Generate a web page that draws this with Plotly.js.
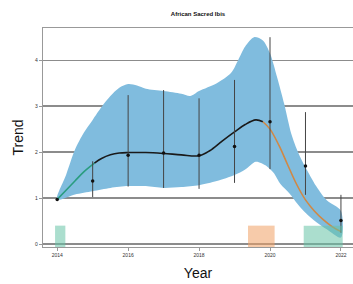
<!DOCTYPE html>
<html>
<head>
<meta charset="utf-8">
<script src="https://cdn.plot.ly/plotly-3.0.1.min.js"></script>
<style>html,body{margin:0;padding:0;background:#fff;}#chart{width:353px;height:284px;}</style>
</head>
<body>
<div id="chart"></div>
<script>
// Observed yearly indices with 95% intervals
const years = [2014, 2015, 2016, 2017, 2018, 2019, 2020, 2021, 2022];
const index = [0.97, 1.37, 1.93, 1.98, 1.93, 2.12, 2.66, 1.70, 0.51];
const indexLow = [0.97, 1.02, 1.25, 1.22, 1.20, 1.33, 1.63, 1.07, 0.24];
const indexHigh = [0.97, 1.80, 3.24, 3.35, 3.17, 3.57, 4.50, 2.87, 1.07];

// Confidence band of smoothed trend
const bandUpYears = [2014, 2014.25, 2014.5, 2014.75, 2015, 2015.25, 2015.5, 2015.75, 2016, 2016.25, 2016.5, 2017, 2017.5, 2017.75, 2018, 2018.5, 2018.9, 2019.1, 2019.3, 2019.55, 2019.8, 2020, 2020.2, 2020.4, 2020.6, 2020.8, 2021, 2021.3, 2021.6, 2022];
const bandUp = [0.97, 1.5, 2.05, 2.42, 2.7, 2.98, 3.22, 3.4, 3.48, 3.45, 3.38, 3.33, 3.27, 3.22, 3.33, 3.5, 3.72, 4.0, 4.3, 4.5, 4.43, 4.15, 3.63, 3.05, 2.4, 1.98, 1.67, 1.26, 0.95, 0.72];
const bandLowYears = [2014, 2014.5, 2015, 2015.5, 2016, 2016.5, 2017, 2017.5, 2018, 2018.5, 2019, 2019.3, 2019.6, 2019.9, 2020.1, 2020.3, 2020.55, 2020.8, 2021, 2021.3, 2021.6, 2022];
const bandLow = [0.97, 1.08, 1.15, 1.22, 1.26, 1.26, 1.22, 1.24, 1.28, 1.37, 1.5, 1.62, 1.79, 1.7, 1.55, 1.3, 1.1, 0.85, 0.68, 0.48, 0.32, 0.14];

// Smoothed trend segments
const riseYears = [2014, 2014.25, 2014.5, 2014.75, 2015.05];
const riseVals = [0.97, 1.17, 1.37, 1.57, 1.76];
const stableYears = [2015.05, 2015.25, 2015.5, 2015.75, 2016, 2016.5, 2017, 2017.5, 2018, 2018.3, 2018.65, 2019, 2019.3, 2019.6, 2019.8];
const stableVals = [1.76, 1.86, 1.94, 1.98, 1.99, 1.99, 1.97, 1.94, 1.92, 2.03, 2.24, 2.44, 2.6, 2.70, 2.66];
const declineYears = [2019.8, 2020, 2020.25, 2020.5, 2020.75, 2021, 2021.25, 2021.5, 2021.75, 2022];
const declineVals = [2.66, 2.5, 2.15, 1.72, 1.3, 0.96, 0.72, 0.53, 0.38, 0.27];

// Period markers along the bottom
const periodStart = [2013.94, 2019.38, 2020.95];
const periodEnd = [2014.23, 2020.13, 2022.05];
const periodColor = ['rgba(102,194,165,0.55)', 'rgba(240,160,100,0.55)', 'rgba(102,194,165,0.55)'];
const periodTop = 0.4;

const ticksX = [2014, 2016, 2018, 2020, 2022];
const ticksY = [0, 1, 2, 3, 4];

const bandX = bandUpYears.concat(bandLowYears.slice().reverse());
const bandY = bandUp.concat(bandLow.slice().reverse());

const traces = [
  {x: bandX, y: bandY, type: 'scatter', mode: 'lines', fill: 'toself',
   fillcolor: 'rgb(128,188,222)', line: {width: 0, shape: 'spline', smoothing: 0.8}, hoverinfo: 'skip', showlegend: false},
  {x: riseYears, y: riseVals, type: 'scatter', mode: 'lines', line: {color: '#2a9d80', width: 1.6, shape: 'spline'}, showlegend: false},
  {x: stableYears, y: stableVals, type: 'scatter', mode: 'lines', line: {color: '#1a1a1a', width: 1.6, shape: 'spline'}, showlegend: false},
  {x: declineYears, y: declineVals, type: 'scatter', mode: 'lines', line: {color: '#d08845', width: 1.6, shape: 'spline'}, showlegend: false},
  {x: years, y: index, type: 'scatter', mode: 'markers',
   marker: {color: '#111', size: 3.5},
   error_y: {type: 'data', symmetric: false,
     array: indexHigh.map((h, i) => h - index[i]),
     arrayminus: index.map((v, i) => v - indexLow[i]),
     color: '#444', thickness: 1, width: 0},
   showlegend: false}
];

const shapes = periodStart.map((s, i) => ({
  type: 'rect', xref: 'x', yref: 'y', x0: s, x1: periodEnd[i], y0: -0.065, y1: periodTop,
  fillcolor: periodColor[i], line: {width: 0}, layer: 'above'
}));

const layout = {
  width: 353, height: 284,
  margin: {l: 43, r: 0, t: 28, b: 37},
  paper_bgcolor: '#fff', plot_bgcolor: '#fff',
  title: {text: '<b>African Sacred Ibis</b>', font: {family: 'Liberation Sans, Arial, sans-serif', size: 6, color: '#111'}, x: 0.561, xanchor: 'center', y: 0.95, yanchor: 'middle'},
  xaxis: {range: [2013.6, 2022.34], tickvals: ticksX, ticktext: ticksX.map(String),
    showgrid: false, zeroline: false, showline: true, linecolor: '#999', linewidth: 1.2, mirror: true,
    ticks: 'outside', ticklen: 3, tickcolor: '#999', tickwidth: 1,
    tickfont: {family: 'Liberation Sans, Arial, sans-serif', size: 5, color: '#333'},
    title: {text: 'Year', font: {family: 'Liberation Sans, Arial, sans-serif', size: 14, color: '#111'}, standoff: 11}},
  yaxis: {range: [-0.065, 4.7], tickvals: ticksY, ticktext: ticksY.map(String),
    showgrid: true, gridcolor: '#8c8c8c', gridwidth: 1.3, zeroline: false,
    showline: true, linecolor: '#999', linewidth: 1.2,
    ticks: 'outside', ticklen: 3, tickcolor: '#999', tickwidth: 1,
    tickfont: {family: 'Liberation Sans, Arial, sans-serif', size: 5, color: '#333'},
    title: {text: 'Trend', font: {family: 'Liberation Sans, Arial, sans-serif', size: 14, color: '#111'}, standoff: 8}},
  shapes: shapes,
  showlegend: false
};

Plotly.newPlot('chart', traces, layout, {staticPlot: true, displayModeBar: false});
</script>
</body>
</html>
